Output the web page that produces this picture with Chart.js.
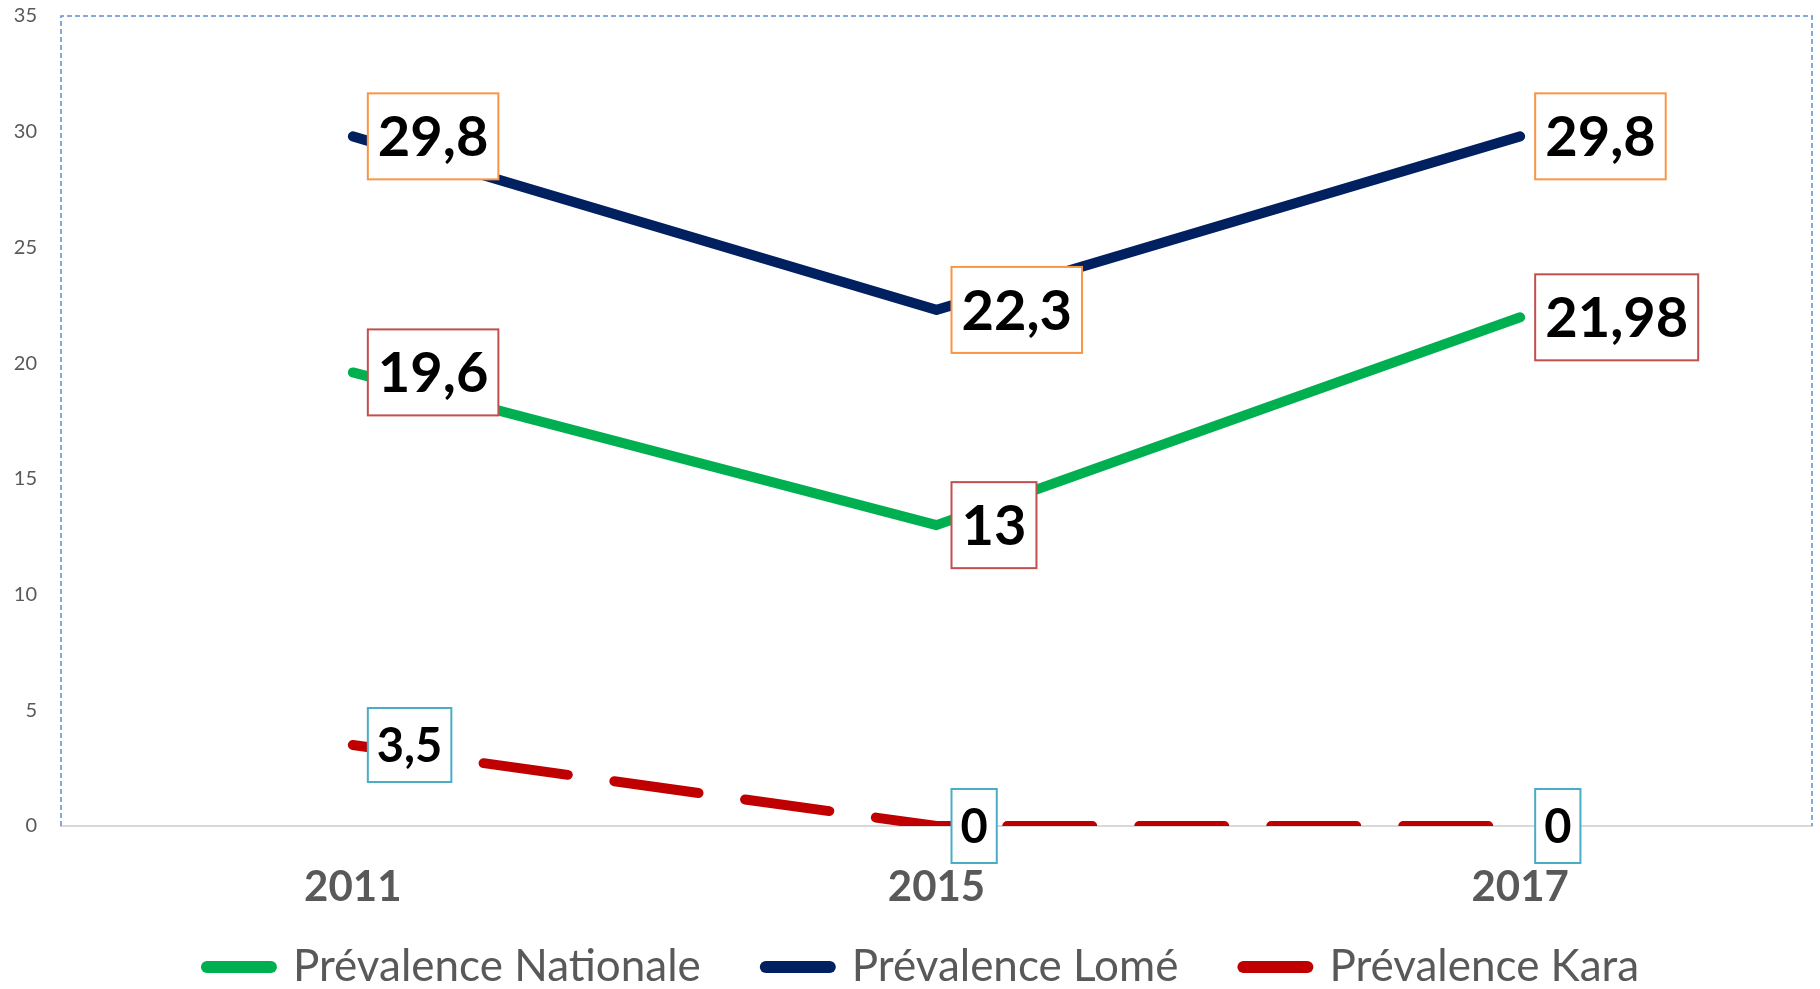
<!DOCTYPE html>
<html>
<head>
<meta charset="utf-8">
<title>Prévalence</title>
<script src="https://cdn.jsdelivr.net/npm/chart.js@4/dist/chart.umd.min.js"></script>
<style>
  html, body { margin: 0; padding: 0; background: #fff; }
  #wrap { width: 1820px; height: 989px; position: relative; }
</style>
</head>
<body>
<div id="wrap"><canvas id="prevChart"></canvas></div>
<script>
// données
const years = ['2011', '2015', '2017'];
const nationale = [19.6, 13, 21.98];
const lome = [29.8, 22.3, 29.8];
const kara = [3.5, 0, 0];
const yTicks = [0, 5, 10, 15, 20, 25, 30, 35];

// étiquettes de valeur façon Excel (boîte blanche avec bordure)
const valueBoxes = {
  id: 'valueBoxes',
  afterDatasetsDraw(chart) {
    const ctx = chart.ctx;
    chart.data.datasets.forEach((ds, i) => {
      const meta = chart.getDatasetMeta(i);
      const st = ds.boxStyle;
      ctx.save();
      ctx.font = 'bold ' + st.size + 'px Lato';
      meta.data.forEach((pt, j) => {
        const txt = String(ds.data[j]).replace('.', ',');
        const w = ctx.measureText(txt).width + st.pad * 2;
        const h = st.height;
        const x = pt.x + 15;
        const y = pt.y - h / 2;
        ctx.fillStyle = '#fff';
        ctx.fillRect(x, y, w, h);
        ctx.strokeStyle = st.border;
        ctx.lineWidth = 2;
        ctx.strokeRect(x, y, w, h);
        ctx.fillStyle = '#000';
        ctx.textAlign = 'center';
        ctx.textBaseline = 'middle';
        ctx.fillText(txt, x + w / 2, pt.y + 2);
      });
      ctx.restore();
    });
  }
};

// cadre pointillé bleu de la zone de tracé (haut, gauche, droite)
const plotFrame = {
  id: 'plotFrame',
  beforeDatasetsDraw(chart) {
    const a = chart.chartArea;
    const ctx = chart.ctx;
    ctx.save();
    ctx.strokeStyle = '#5B8FD0';
    ctx.lineWidth = 1.5;
    ctx.setLineDash([5, 3]);
    ctx.beginPath();
    ctx.moveTo(a.left, a.bottom);
    ctx.lineTo(a.left, a.top);
    ctx.lineTo(a.right, a.top);
    ctx.lineTo(a.right, a.bottom);
    ctx.stroke();
    ctx.restore();
  }
};

// remonte un peu la légende (le padding vertical de la légende est trop grand)
// et la recentre (le padding final décale la ligne vers la gauche)
const legendNudge = {
  id: 'legendNudge',
  afterLayout(chart) {
    chart.legend.top -= 25;
    chart.legend.left += 34;
  }
};

const ctx = document.getElementById('prevChart').getContext('2d');
new Chart(ctx, {
  type: 'line',
  data: {
    labels: years,
    datasets: [
      {
        label: 'Prévalence Nationale',
        data: nationale,
        borderColor: '#00B050',
        backgroundColor: '#00B050',
        borderWidth: 10,
        borderCapStyle: 'round',
        borderJoinStyle: 'round',
        pointRadius: 0,
        tension: 0,
        boxStyle: { border: '#C0504D', size: 56, height: 86, pad: 10 },
      },
      {
        label: 'Prévalence Lomé',
        data: lome,
        borderColor: '#002060',
        backgroundColor: '#002060',
        borderWidth: 10,
        borderCapStyle: 'round',
        borderJoinStyle: 'round',
        pointRadius: 0,
        tension: 0,
        boxStyle: { border: '#F79646', size: 56, height: 86, pad: 10 },
      },
      {
        label: 'Prévalence Kara',
        data: kara,
        borderColor: '#C00000',
        backgroundColor: '#C00000',
        borderWidth: 10,
        borderCapStyle: 'round',
        borderDash: [85, 47],
        pointRadius: 0,
        tension: 0,
        boxStyle: { border: '#4BACC6', size: 47, height: 74, pad: 9 },
      }
    ],
  },
  options: {
    responsive: true,
    maintainAspectRatio: false,
    animation: false,
    layout: { padding: { top: 0, right: 8, left: 0, bottom: 0 } },
    plugins: {
      tooltip: { enabled: false },
      legend: {
        position: 'bottom',
        maxHeight: 84,
        labels: {
          usePointStyle: true,
          pointStyleWidth: 64,
          boxHeight: 12,
          padding: 65,
          color: '#595959',
          font: { family: 'Lato', size: 44 },
          generateLabels(chart) {
            const items = Chart.defaults.plugins.legend.labels.generateLabels(chart);
            items.forEach(it => {
              it.pointStyle = 'line';
              it.lineDash = [];
              it.lineWidth = 12;
              it.lineCap = 'round';
              it.fontColor = '#595959';
            });
            return items;
          }
        }
      }
    },
    scales: {
      x: {
        offset: true,
        afterFit(scale) { scale.height = 79; },
        grid: { display: false, drawTicks: false },
        border: { display: true, color: '#D9D9D9', width: 2 },
        ticks: {
          color: '#595959',
          padding: 36,
          font: { family: 'Lato', size: 42, weight: 'bold' },
        },
      },
      y: {
        min: 0,
        max: 35,
        afterFit(scale) {
          scale.width = 61;
          scale.paddingTop = 16;
          scale.paddingBottom = 0;
        },
        afterBuildTicks(scale) { scale.ticks = yTicks.map(v => ({ value: v })); },
        grid: { display: false, drawTicks: false },
        border: { display: false },
        ticks: {
          color: '#595959',
          padding: 24,
          font: { family: 'Lato', size: 20 },
        },
      },
    },
  },
  plugins: [plotFrame, valueBoxes, legendNudge],
});
</script>
</body>
</html>
